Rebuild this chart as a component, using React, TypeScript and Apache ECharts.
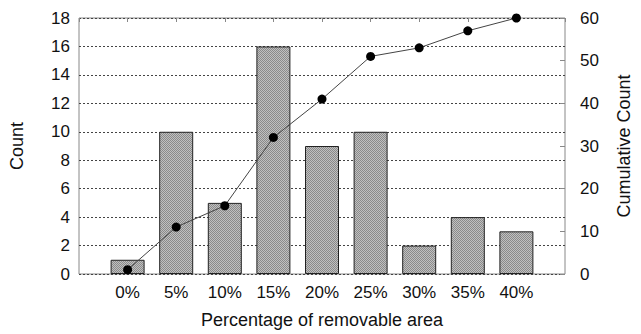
import React, { useEffect, useRef } from "react";
import * as echarts from "echarts";

const categories = ["0%", "5%", "10%", "15%", "20%", "25%", "30%", "35%", "40%"];
const counts = [1, 10, 5, 16, 9, 10, 2, 4, 3];
const cumulative = [1, 11, 16, 32, 41, 51, 53, 57, 60];

function makePattern(): HTMLCanvasElement {
  const c = document.createElement("canvas");
  c.width = 2;
  c.height = 2;
  const ctx = c.getContext("2d")!;
  ctx.fillStyle = "#c0c0c0";
  ctx.fillRect(0, 0, 2, 2);
  ctx.fillStyle = "#8a8a8a";
  ctx.fillRect(0, 0, 1, 1);
  ctx.fillRect(1, 1, 1, 1);
  return c;
}

export default function App() {
  const ref = useRef<HTMLDivElement>(null);
  useEffect(() => {
    const chart = echarts.init(ref.current!, null, { renderer: "svg" });
    const font = "Liberation Sans, Arial, Helvetica, sans-serif";
    const pattern = makePattern();
    const tick = { fontSize: 17, color: "#111", fontFamily: font };
    const title = { fontSize: 18, color: "#111", fontFamily: font };
    chart.setOption({
      animation: false,
      textStyle: { fontFamily: font },
      grid: {
        left: 77,
        right: 69,
        top: 18,
        bottom: 58,
        show: true,
        borderColor: "#888",
        borderWidth: 1,
      },
      xAxis: [
        {
          type: "value",
          min: -1,
          max: 9,
          interval: 1,
          axisLine: { show: false, onZero: false },
          axisTick: { show: false },
          splitLine: { show: false },
          axisLabel: {
            ...tick,
            margin: 10,
            formatter: (v: number) => categories[v] ?? "",
          },
          name: "Percentage of removable area",
          nameLocation: "middle",
          nameGap: 37,
          nameTextStyle: title,
        },
        {
          type: "value",
          position: "top",
          min: -1,
          max: 9,
          interval: 1,
          axisLine: { show: false, onZero: false },
          axisTick: { show: true, inside: true, length: 4, lineStyle: { color: "#888" } },
          axisLabel: { show: false },
          splitLine: { show: false },
        },
      ],
      yAxis: [
        {
          type: "value",
          min: 0,
          max: 18,
          interval: 2,
          axisLine: { show: false, onZero: false },
          axisTick: { show: false },
          splitLine: { show: true, lineStyle: { color: "#444", width: 1, type: [2, 2] } },
          axisLabel: { ...tick, margin: 9 },
          name: "Count",
          nameLocation: "middle",
          nameGap: 53,
          nameRotate: 90,
          nameTextStyle: title,
        },
        {
          type: "value",
          min: 0,
          max: 60,
          interval: 10,
          position: "right",
          axisLine: { show: false, onZero: false },
          axisTick: { show: true, inside: true, length: 5, lineStyle: { color: "#888" } },
          splitLine: { show: false },
          axisLabel: { ...tick, margin: 15 },
          name: "Cumulative Count",
          nameLocation: "middle",
          nameGap: 50,
          nameRotate: 90,
          nameTextStyle: title,
        },
      ],
      series: [
        {
          type: "bar",
          xAxisIndex: 0,
          yAxisIndex: 0,
          barWidth: 34,
          data: counts.map((v, i) => [i, v]),
          itemStyle: {
            color: { image: pattern, repeat: "repeat" },
            borderColor: "#222",
            borderWidth: 1,
          },
        },
        {
          type: "line",
          xAxisIndex: 0,
          yAxisIndex: 1,
          data: cumulative.map((v, i) => [i, v]),
          symbol: "circle",
          symbolSize: 9,
          itemStyle: { color: "#000" },
          lineStyle: { color: "#444", width: 1 },
          z: 5,
        },
      ],
    });
    return () => chart.dispose();
  }, []);
  return (
    <div
      ref={ref}
      style={{ position: "fixed", left: 0, top: 0, width: 641, height: 334, background: "#fff" }}
    />
  );
}
